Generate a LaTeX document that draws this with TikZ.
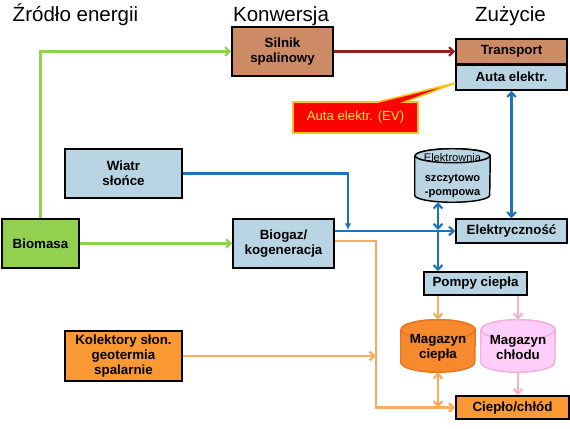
\documentclass[tikz,border=0pt]{standalone}
\usepackage{fontspec}
\setmainfont{Liberation Sans}
\usetikzlibrary{arrows.meta,calc,shapes.callouts,backgrounds}
\definecolor{enblue}{RGB}{185,213,227}
\definecolor{enbrown}{RGB}{204,139,101}
\definecolor{engreen}{RGB}{146,208,80}
\definecolor{enorange}{RGB}{250,152,52}
\definecolor{entank}{RGB}{246,138,44}
\definecolor{entankline}{RGB}{232,118,30}
\definecolor{enpink}{RGB}{255,206,250}
\definecolor{enpinkline}{RGB}{246,176,214}
\definecolor{enline}{RGB}{31,114,186}
\definecolor{endarkred}{RGB}{150,32,32}
\definecolor{enorangeline}{RGB}{248,172,96}
\definecolor{enyellow}{RGB}{255,232,70}
\definecolor{engold}{RGB}{255,196,20}
\tikzset{
  head/.style={font=\fontsize{15.4}{18}\selectfont, anchor=base},
  ebox/.style={draw=black, line width=1.1pt, align=center, inner sep=1pt,
    font=\fontsize{10}{11.5}\selectfont\bfseries},
  bluebox/.style={ebox, fill=enblue},
  brownbox/.style={ebox, fill=enbrown},
  greenbox/.style={ebox, fill=engreen},
  orangebox/.style={ebox, fill=enorange},
  tankbox/.style={align=center, inner sep=0pt, font=\fontsize{10}{11.5}\selectfont\bfseries},
  greenarr/.style={->, line width=1.6pt, engreen},
  bluearr/.style={->, line width=1.6pt, enline},
  redarr/.style={->, line width=1.6pt, endarkred},
  orangearr/.style={->, line width=1.7pt, enorangeline},
  pinkarr/.style={->, line width=1.7pt, enpinkline}
}
% tank outline round a node: #1 node, #2 style, #3 cap radius, #4 half width
\newcommand{\drawtank}[4]{%
  \draw[line width=1.1pt,#2] ([yshift=-#3]#1.north west) -- ([yshift=#3]#1.south west)
    arc[start angle=180,end angle=360,x radius=#4,y radius=#3] -- ([yshift=-#3]#1.north east)
    arc[start angle=0,end angle=180,x radius=#4,y radius=#3] -- cycle;
  \draw[line width=1.1pt,#2] ([yshift=-#3]#1.north) ellipse[x radius=#4,y radius=#3];
}

\begin{document}
\begin{tikzpicture}[x=0.75pt,y=-0.75pt,>={Straight Barb[length=3.5pt,width=6.5pt]}]
  \useasboundingbox (0,0) rectangle (570,428);
  % column titles
  \node[head] (hsrc) at (75.5,22) {Źródło energii};
  \node[head] (hconv) at (281,22) {Konwersja};
  \node[head] (huse) at (510.5,22) {Zużycie};
  % sources
  \node[bluebox,minimum width=87.75pt,minimum height=36.75pt] (wiatr) at (123.5,173.5) {Wiatr\\słońce};
  \node[greenbox,minimum width=57.75pt,minimum height=36.75pt] (biomasa) at (40.5,243.5) {Biomasa};
  \node[orangebox,minimum width=87.75pt,minimum height=37.5pt] (kolektory) at (123.5,356) {Kolektory słon.\\geotermia\\spalarnie};
  % conversion
  \node[brownbox,minimum width=75.75pt,minimum height=36.75pt] (silnik) at (282.5,51.5) {Silnik\\spalinowy};
  \node[bluebox,minimum width=75.75pt,minimum height=36.75pt] (biogaz) at (283.5,243.5) {Biogaz/\\kogeneracja};
  % use
  \node[brownbox,minimum width=83.25pt,minimum height=18.75pt] (transport) at (511.5,51.5) {Transport};
  \node[bluebox,minimum width=83.25pt,minimum height=19.5pt] (auta) at (511.5,77) {Auta elektr.};
  \draw[line width=2.2pt] (transport.south west) -- (transport.south east);
  \node[rectangle callout,callout absolute pointer={($(auta.west)+(0,6)$)},callout pointer width=20pt,
    fill=red,draw=engold,line width=1.2pt,text=enyellow,minimum width=93.75pt,minimum height=23.25pt,
    font=\fontsize{9.9}{12}\selectfont] (ev) at (355.5,117.5) {Auta elektr. (EV)};
  \node[tankbox,minimum width=56.25pt,minimum height=39.75pt,font=\fontsize{8.3}{10}\selectfont\bfseries]
    (elektrownia) at (452.5,175.5) {\mdseries Elektrownia\\[5pt]szczytowo\\-pompowa};
  \node[bluebox,minimum width=83.25pt,minimum height=18pt] (elektr) at (511.5,231) {Elektryczność};
  \node[bluebox,minimum width=77.25pt,minimum height=17.25pt] (pompy) at (475.5,283.5) {Pompy ciepła};
  \node[tankbox,minimum width=55.5pt,minimum height=39pt] (magc) at (438,346) {\\[-2pt]Magazyn\\ciepła};
  \node[tankbox,minimum width=55.5pt,minimum height=39pt] (magch) at (518,346) {\\[-2pt]Magazyn\\chłodu};
  \node[orangebox,minimum width=84.75pt,minimum height=17.25pt] (cieplo) at (512.5,407.5) {Ciepło/chłód};
  \begin{scope}[on background layer]
    \drawtank{elektrownia}{fill=enblue,draw=black}{5.25pt}{28.1pt}
    \drawtank{magc}{fill=entank,draw=entankline}{7.5pt}{27.75pt}
    \drawtank{magch}{fill=enpink,draw=enpinkline}{7.5pt}{27.75pt}
  \end{scope}
  % junctions
  \coordinate (wjoin) at (348,230);
  \coordinate (ejoin) at (438,230);
  \coordinate (ojoin) at (376,407.5);
  % connectors
  \draw[greenarr] (biomasa.north) |- (silnik.west);
  \draw[greenarr] (biomasa.east) -- (biogaz.west);
  \draw[redarr] (silnik.east) -- (transport.west);
  \draw[bluearr,-{Latex[length=5pt,width=5pt]}] (wiatr.east) -| (wjoin);
  \draw[bluearr] (biogaz.east |- elektr.west) -- (elektr.west);
  \draw[bluearr,<->] (ejoin |- elektrownia.south) -- (ejoin);
  \draw[bluearr] (ejoin) -- (ejoin |- pompy.north);
  \draw[bluearr,<->] (elektr.north) -- (auta.south);
  \draw[orangearr] ([yshift=2pt]biogaz.east) -| (ojoin) -- (cieplo.west);
  \draw[orangearr] (kolektory.east) -- (kolektory.east -| ojoin);
  \draw[orangearr] (pompy.south -| magc.north) -- (magc.north);
  \draw[pinkarr] (pompy.south -| magch.north) -- (magch.north);
  \draw[orangearr,<->] (magc.south) -- (magc.south |- cieplo.west);
  \draw[pinkarr] (magch.south) -- (magch.south |- cieplo.north);
\end{tikzpicture}
\end{document}
